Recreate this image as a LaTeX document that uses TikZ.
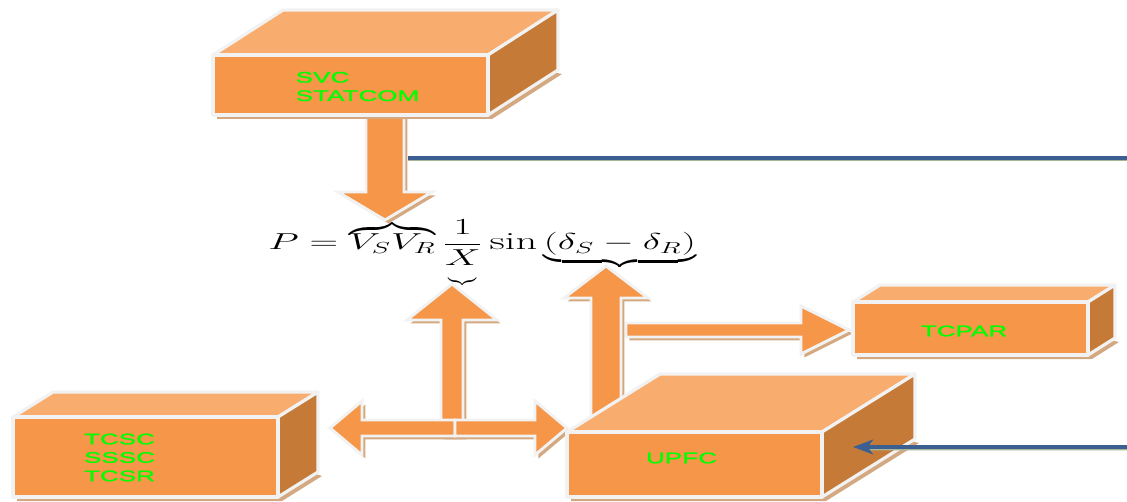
\documentclass[tikz,border=0pt]{standalone}
\usepackage{fontspec}
\usepackage{amsmath}
\usepackage{graphicx}
\newfontfamily\labelfont[FakeStretch=1.7,FakeBold=1.2]{Liberation Sans}
\usetikzlibrary{calc,arrows.meta}

\definecolor{boxfront}{RGB}{245,150,72}
\definecolor{boxtop}{RGB}{248,173,110}
\definecolor{boxside}{RGB}{197,122,56}
\definecolor{boxrim}{RGB}{242,242,242}
\definecolor{boxshade}{RGB}{212,168,128}
\definecolor{ctrlblue}{RGB}{59,95,145}
\definecolor{ctrlshade}{RGB}{168,180,150}
\definecolor{labelgreen}{RGB}{0,255,0}

% block arrow: from, to, shaft half width, head half width, head length (px)
\newcommand{\fatarrow}[5]{%
  \coordinate (fa-h) at ($(#2)!{#5*0.75pt}!(#1)$);
  \path[fatarrow] ($(#1)!{#3*0.75pt}!90:(#2)$) -- ($(fa-h)!{#3*0.75pt}!90:(#2)$)
    -- ($(fa-h)!{#4*0.75pt}!90:(#2)$) -- (#2) -- ($(fa-h)!{#4*0.75pt}!-90:(#2)$)
    -- ($(fa-h)!{#3*0.75pt}!-90:(#2)$) -- ($(#1)!{#3*0.75pt}!-90:(#2)$) -- cycle;
}
% box: name, centre x/y, width/height, depth x/y (px)
\newcommand{\cuboid}[7]{%
  \node[minimum width={#4*0.75pt}, minimum height={#5*0.75pt}, inner sep=0pt, outer sep=0pt] (#1) at (#2,#3) {};
  \fill[boxshade, transform canvas={shift={(3pt,-3pt)}}] (#1.south west) -- (#1.north west)
    -- ([shift={(#6,-#7)}]#1.north west) -- ([shift={(#6,-#7)}]#1.south east) -- (#1.south east) -- cycle;
  \path[face, fill=boxtop] (#1.north west) -- ([shift={(#6,-#7)}]#1.north west)
    -- ([shift={(#6,-#7)}]#1.north east) -- (#1.north east) -- cycle;
  \path[face, fill=boxside] (#1.north east) -- ([shift={(#6,-#7)}]#1.north east)
    -- ([shift={(#6,-#7)}]#1.south east) -- (#1.south east) -- cycle;
  \path[face, fill=boxfront] (#1.south west) rectangle (#1.north east);
}
\newcommand{\smallbrace}[1]{\underset{\makebox[0pt]{\raisebox{1pt}{\scalebox{0.4}[0.6]{$\underbrace{\hphantom{#1}}$}}}}{#1}}

\begin{document}
\begin{tikzpicture}[x=0.75pt, y=-0.75pt,
  face/.style={draw=boxrim, line width=2.4pt, line join=round},
  fatarrow/.style={fill=boxfront, draw=boxrim, line width=2.2pt, line join=miter,
    preaction={fill=boxshade, transform canvas={shift={(2.6pt,-2.6pt)}}}},
  boxlabel/.style={font=\labelfont\fontsize{11.5}{13.8}\selectfont, text=labelgreen,
    align=left, inner sep=0pt},
  ctrlwire/.style={draw=ctrlblue, line width=2.6pt}]
  \useasboundingbox (0,0) rectangle (1127,502);

  % arrow ends
  \coordinate (svc-out) at (385,100);
  \coordinate (vv-in) at (385,220);
  \coordinate (svc-rim) at (408,158);
  \coordinate (hub) at (455,428);
  \coordinate (x-in) at (452,284);
  \coordinate (tcsc-in) at (330,428);
  \coordinate (upfc-in) at (567,428);
  \coordinate (dd-in) at (606,266);
  \coordinate (dd-foot) at (606,430);
  \coordinate (tcpar-tap) at (626,330);
  \coordinate (tcpar-in) at (849,330);
  \coordinate (feed-a) at (1127,158);
  \coordinate (feed-b) at (1127,447);
  \coordinate (upfc-side) at (853,447);

  % block arrows
  \fatarrow{svc-out}{vv-in}{19}{47}{28}
  \fatarrow{$(hub)+(-3,8)$}{x-in}{11}{45}{36}
  \fatarrow{hub}{tcsc-in}{8}{27}{32}
  \fatarrow{hub}{upfc-in}{8}{27}{32}
  \fatarrow{tcpar-tap}{tcpar-in}{7}{24}{48}
  \fatarrow{dd-foot}{dd-in}{15}{42}{32}

  % boxes
  \cuboid{svc}{350.5}{85}{275}{60}{70}{45}
  \cuboid{tcsc}{145.5}{457}{265}{80}{40}{25}
  \cuboid{tcpar}{970.5}{328.5}{235}{53}{27}{17}
  \cuboid{upfc}{694.5}{464.5}{255}{65}{93}{58}

  \node[boxlabel] (svc-txt) at ($(svc.center)+(7,1.5)$) {SVC\\STATCOM};
  \node[boxlabel] (tcsc-txt) at ($(tcsc.center)+(-26,0.5)$) {TCSC\\SSSC\\TCSR};
  \node[boxlabel] (tcpar-txt) at ($(tcpar.center)+(-6.5,2.5)$) {TCPAR};
  \node[boxlabel] (upfc-txt) at ($(upfc.center)+(-13,-6.5)$) {UPFC};

  % control lines
  \draw[ctrlshade, line width=2pt] ([yshift=-1.6pt]svc-rim) -- ([yshift=-1.6pt]feed-a);
  \draw[ctrlwire] (svc-rim) -- (feed-a);
  \draw[ctrlshade, line width=2pt] ([yshift=-1.6pt]feed-b) -- ([shift={(14,2)}]upfc-side);
  \draw[ctrlwire, -{Stealth[length=15pt,width=11pt,inset=4pt]}] (feed-b) -- (upfc-side);

  % power flow
  \node[anchor=base west, inner sep=0pt] (law) at (268,250)
    {\fontsize{18.5}{22}\selectfont\scalebox{1.72}[1]{$\displaystyle P = \overbrace{V_S V_R}\frac{1}{\smallbrace{X}}\sin\underbrace{(\delta_S - \delta_R)}$}};
\end{tikzpicture}
\end{document}
